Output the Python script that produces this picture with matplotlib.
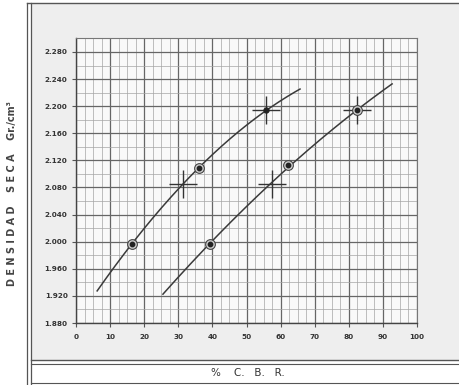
import numpy as np
import matplotlib
matplotlib.use("Agg")
import matplotlib.pyplot as plt
from matplotlib.lines import Line2D
from matplotlib.patches import Rectangle

# --- data: dry density vs. CBR, two compaction curves ---
curve1_x = [6.2, 16.3, 31.3, 36.2, 55.7, 65.7]
curve1_y = [1.927, 1.997, 2.085, 2.109, 2.194, 2.225]
curve2_x = [25.5, 39.3, 57.4, 62.3, 82.5, 92.7]
curve2_y = [1.923, 1.997, 2.085, 2.113, 2.194, 2.233]

circle_x = [16.3, 36.2, 39.3, 62.3, 82.5]
circle_y = [1.997, 2.109, 1.997, 2.113, 2.194]
cross_x = [31.3, 55.7, 57.4, 82.5]
cross_y = [2.085, 2.194, 2.085, 2.194]

x_ticks = [0, 10, 20, 30, 40, 50, 60, 70, 80, 90, 100]
y_ticks = [1.880, 1.920, 1.960, 2.000, 2.040, 2.080, 2.120, 2.160, 2.200, 2.240, 2.280]
y_tick_labels = ["1.880", "1.920", "1.960", "2.000", "2.040", "2.080",
                 "2.120", "2.160", "2.200", "2.240", "2.280"]

W, H = 459, 385
fig = plt.figure(figsize=(W / 100, H / 100), dpi=100)
fig.patch.set_facecolor("white")

def fx(px):
    return px / W

def fy(py):
    return 1 - py / H

# light marble-grey panel behind the chart
fig.add_artist(Rectangle((fx(31), fy(361)), fx(W - 31), fy(3) - fy(361),
                         transform=fig.transFigure, facecolor="#eeeeee",
                         edgecolor="none", zorder=0))

# frame lines
frame_kw = dict(transform=fig.transFigure, color="#555555", zorder=1)
fig.add_artist(Line2D([fx(26.5), fx(26.5)], [0, fy(3)], lw=0.9, **frame_kw))
fig.add_artist(Line2D([fx(31), fx(31)], [0, fy(3)], lw=0.9, **frame_kw))
fig.add_artist(Line2D([fx(26.5), 1], [fy(3), fy(3)], lw=1.0, **frame_kw))
fig.add_artist(Line2D([fx(31), 1], [fy(360), fy(360)], lw=1.0, **frame_kw))
fig.add_artist(Line2D([fx(31), 1], [fy(364), fy(364)], lw=0.8, **frame_kw))
fig.add_artist(Line2D([fx(31), 1], [fy(383), fy(383)], lw=0.8, **frame_kw))

ax = fig.add_axes([fx(76), fy(323), fx(417) - fx(76), fy(38.4) - fy(323)])
ax.set_facecolor("#f9f9f9")
ax.set_xlim(0, 100)
ax.set_ylim(1.880, 2.300)

# grid: minor every 2.5 % / 0.02, major every 10 % / 0.04
for v in np.arange(0, 100.1, 2.5):
    major = abs(v % 10) < 1e-9
    ax.axvline(v, color="#666666" if major else "#a5a5a5",
               lw=0.9 if major else 0.5, zorder=1)
for v in np.arange(1.880, 2.3001, 0.02):
    major = abs(((v - 1.880) / 0.04) - round((v - 1.880) / 0.04)) < 1e-6
    ax.axhline(v, color="#666666" if major else "#a5a5a5",
               lw=0.9 if major else 0.5, zorder=1)

ax.set_xticks(x_ticks)
ax.set_xticklabels([str(t) for t in x_ticks])
ax.set_yticks(y_ticks)
ax.set_yticklabels(y_tick_labels)
ax.tick_params(axis="both", length=3, width=0.8, color="#555555",
               labelsize=5.2, labelcolor="#333333", pad=3)
ax.tick_params(axis="x", pad=5)
for lab in ax.get_xticklabels() + ax.get_yticklabels():
    lab.set_fontweight("bold")
for side in ["left", "bottom"]:
    ax.spines[side].set_color("#444444")
    ax.spines[side].set_linewidth(1.0)
for side in ["top", "right"]:
    ax.spines[side].set_color("#777777")
    ax.spines[side].set_linewidth(0.8)

# fitted compaction curves
for cx, cy in [(curve1_x, curve1_y), (curve2_x, curve2_y)]:
    coef = np.polyfit(cx, cy, 2)
    xs = np.linspace(cx[0], cx[-1], 200)
    ax.plot(xs, np.polyval(coef, xs), color="#3a3a3a", lw=1.1, zorder=3)

# markers
ax.plot(cross_x, cross_y, linestyle="none", marker="+", markersize=20,
        markeredgewidth=1.0, color="#333333", zorder=4)
ax.plot(circle_x, circle_y, linestyle="none", marker="o", markersize=7,
        markerfacecolor="#d0d0d0", markeredgecolor="#444444",
        markeredgewidth=0.8, zorder=5)
ax.plot(circle_x, circle_y, linestyle="none", marker="o", markersize=3.2,
        color="#222222", zorder=6)
ax.plot([cross_x[1]], [cross_y[1]], linestyle="none", marker="o",
        markersize=3.5, color="#222222", zorder=6)

# axis titles
fig.text(fx(12.5), fy(194), "D E N S I D A D    S E C A    Gr./cm³",
         rotation=90, ha="center", va="center", fontsize=7,
         fontweight="bold", color="#444444")
fig.text(fx(248), fy(373.5), "%    C.   B.   R.", ha="center", va="center",
         fontsize=7.5, color="#333333")

fig.savefig("out.png", dpi=100)
